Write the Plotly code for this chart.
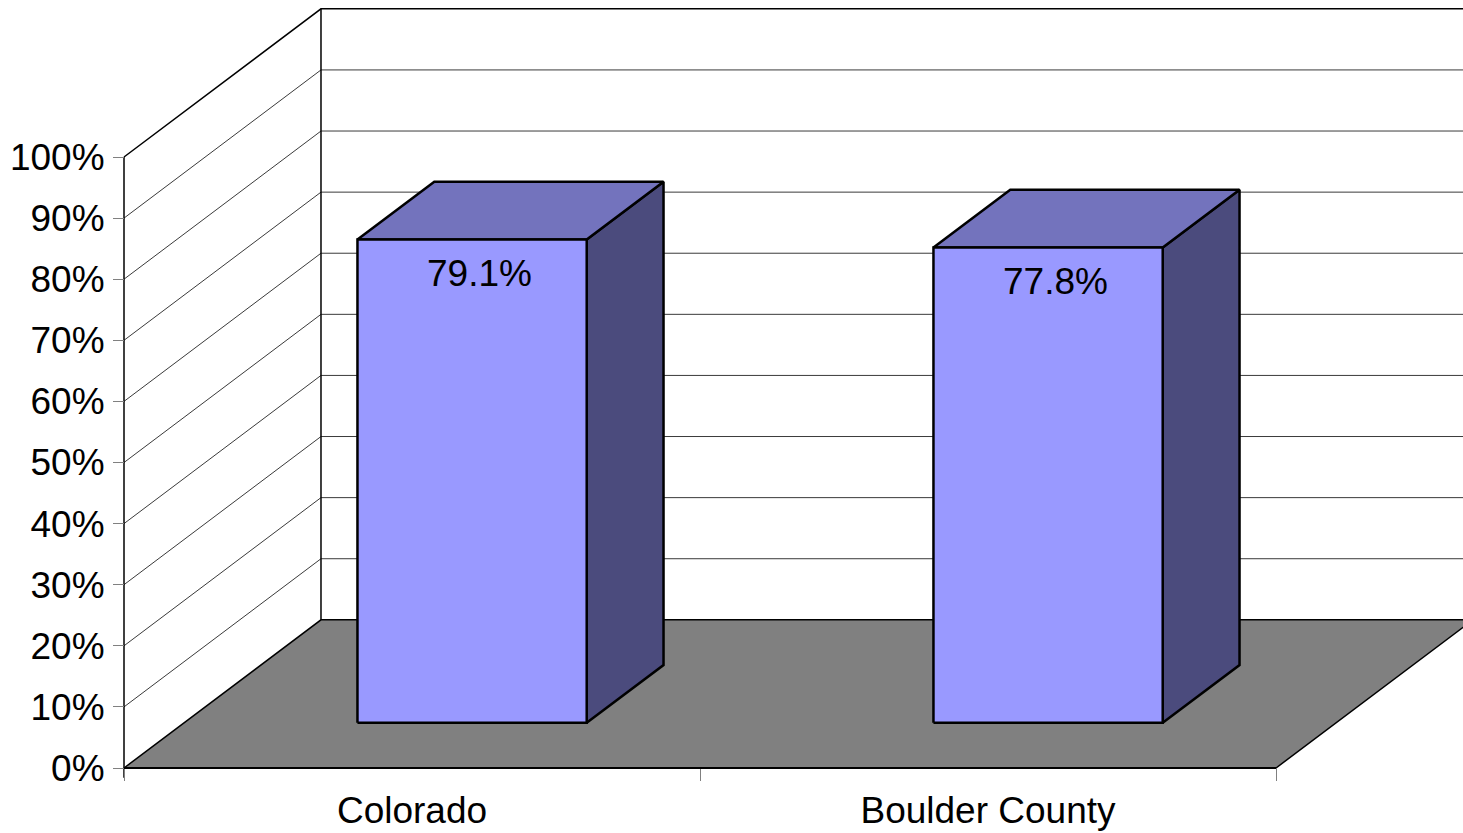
import plotly.graph_objects as go

# ---- data ----
categories = ["Colorado", "Boulder County"]
values = [79.1, 77.8]
value_labels = ["79.1%", "77.8%"]
y_ticks = [0, 10, 20, 30, 40, 50, 60, 70, 80, 90, 100]
y_tick_labels = ["0%", "10%", "20%", "30%", "40%", "50%", "60%", "70%", "80%", "90%", "100%"]

# ---- oblique projection geometry (in axis units) ----
DX = 0.342      # depth offset along x (category units)
DY = 24.25      # depth offset along y (percent units)
D0, D1 = 0.305, 0.695   # bar front / back depth fraction
HALF_W = 0.199  # half bar width (category units)
N = len(categories)
YMAX = y_ticks[-1]

FRONT = "#9999FF"
TOP = "#7373BD"
SIDE = "#4B4B7D"
FONT = "Liberation Sans, Arial, sans-serif"

fig = go.Figure()


def seg_trace(xs, ys, color, width):
    fig.add_trace(go.Scatter(x=xs, y=ys, mode="lines", hoverinfo="skip",
                             line=dict(color=color, width=width), showlegend=False))


# back wall gridlines
gx, gy = [], []
for v in y_ticks[1:-1]:
    gx += [DX, N + DX, None]
    gy += [DY + v, DY + v, None]
seg_trace(gx, gy, "#3a3a3a", 1)
# left wall diagonal gridlines
dx_, dy_ = [], []
for v in y_ticks[1:-1]:
    dx_ += [0, DX, None]
    dy_ += [v, DY + v, None]
seg_trace(dx_, dy_, "#3a3a3a", 1)
# wall top edges and back-left vertical edge
seg_trace([0, DX, N + DX], [YMAX, DY + YMAX, DY + YMAX], "#000000", 1.5)
seg_trace([DX, DX], [DY, DY + YMAX], "#000000", 1.5)

# floor
fig.add_trace(go.Scatter(x=[0, N, N + DX, DX, 0], y=[0, 0, DY, DY, 0], mode="lines",
                         fill="toself", fillcolor="#808080", hoverinfo="skip",
                         line=dict(color="#000000", width=1.5), showlegend=False))
seg_trace([0, N], [0, 0], "#000000", 2)

# bars
for i, v in enumerate(values):
    xl = i + 0.5 - HALF_W
    xr = i + 0.5 + HALF_W
    f0x, f0y = D0 * DX, D0 * DY
    b0x, b0y = D1 * DX, D1 * DY
    faces = [
        ([xr + f0x, xr + f0x, xr + b0x, xr + b0x, xr + f0x],
         [f0y, f0y + v, b0y + v, b0y, f0y], SIDE),
        ([xl + f0x, xr + f0x, xr + b0x, xl + b0x, xl + f0x],
         [f0y + v, f0y + v, b0y + v, b0y + v, f0y + v], TOP),
        ([xl + f0x, xr + f0x, xr + f0x, xl + f0x, xl + f0x],
         [f0y, f0y, f0y + v, f0y + v, f0y], FRONT),
    ]
    for xs, ys, col in faces:
        fig.add_trace(go.Scatter(x=xs, y=ys, mode="lines", fill="toself", fillcolor=col,
                                 line=dict(color="#000000", width=2.5), hoverinfo="skip",
                                 showlegend=False))
    fig.add_annotation(x=i + 0.5 + f0x, y=f0y + v, text=value_labels[i], showarrow=False,
                       xanchor="center", yanchor="middle", xshift=7, yshift=-34,
                       font=dict(family=FONT, size=37, color="#000000"))

# front vertical axis line
seg_trace([0, 0], [-1.6, YMAX], "#000000", 1.5)

W, H = 1463, 833
X_LEFT_PX, PX_PER_CAT = 124, 576
Y_BOTTOM_PX, PX_PER_PCT = 65, 6.11

fig.update_layout(
    width=W, height=H, margin=dict(l=0, r=0, t=0, b=0),
    paper_bgcolor="white", plot_bgcolor="white", showlegend=False,
    font=dict(family=FONT, size=37, color="#000000"),
    xaxis=dict(range=[-X_LEFT_PX / PX_PER_CAT, (W - X_LEFT_PX) / PX_PER_CAT],
               anchor="free", position=Y_BOTTOM_PX / H,
               tickmode="array", tickvals=[i + 0.5 for i in range(N)], ticktext=categories,
               ticks="", showgrid=False, zeroline=False, showline=False,
               ticklabelstandoff=17,
               minor=dict(tickmode="array", tickvals=list(range(N + 1)), ticks="outside",
                          ticklen=12, tickcolor="#808080", tickwidth=1, showgrid=False),
               fixedrange=True),
    yaxis=dict(range=[-Y_BOTTOM_PX / PX_PER_PCT, (H - Y_BOTTOM_PX) / PX_PER_PCT],
               anchor="free", position=X_LEFT_PX / W,
               tickmode="array", tickvals=y_ticks, ticktext=y_tick_labels,
               ticks="outside", ticklen=11, tickcolor="#808080", tickwidth=1,
               showgrid=False, zeroline=False, showline=False,
               ticklabelstandoff=1, fixedrange=True),
)

fig.write_html("out.html", config={"displayModeBar": False},
               post_script="document.body.style.margin='0';"
                           "document.body.style.overflow='hidden';")
